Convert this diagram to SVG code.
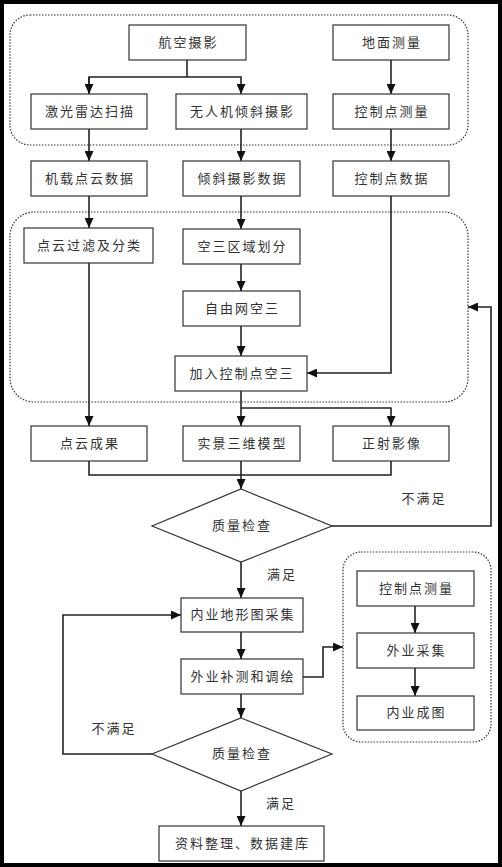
<svg xmlns="http://www.w3.org/2000/svg" width="502" height="867" viewBox="0 0 502 867">
<style>
.box{fill:#fff;stroke:#333;stroke-width:1.2}
.grp{fill:none;stroke:#333;stroke-width:1.2;stroke-dasharray:1.5 1.5}
.t{font-family:"Liberation Sans","Noto Sans CJK SC",sans-serif;font-size:13px;letter-spacing:2px;fill:#333;text-anchor:middle}
.c{fill:none;stroke:#222;stroke-width:1.6}
.a{marker-end:url(#ah)}
</style>
<defs>
<marker id="ah" markerUnits="userSpaceOnUse" markerWidth="10" markerHeight="9" refX="10" refY="4.5" orient="auto">
<path d="M0,0 L10,4.5 L0,9 z" fill="#111"/>
</marker>
</defs>
<rect x="0" y="0" width="502" height="867" fill="#fff"/>
<rect x="2" y="2" width="498" height="863" fill="none" stroke="#000" stroke-width="4"/>
<g id="groups">
<rect class="grp" x="10" y="15" width="458" height="130" rx="20"/>
<rect class="grp" x="10" y="212" width="458" height="190" rx="24"/>
<rect class="grp" x="343" y="552" width="148" height="190" rx="18"/>
</g>
<g id="connectors">
<path class="c" d="M187,60 V77"/>
<path class="c a" d="M89,94 V77 H241 V94"/>
<path class="c a" d="M89,77 V94"/>
<path class="c a" d="M391,60 V94"/>
<path class="c a" d="M89,129 V161"/>
<path class="c a" d="M241,129 V161"/>
<path class="c a" d="M391,129 V161"/>
<path class="c a" d="M89,196 V228"/>
<path class="c a" d="M241,196 V229"/>
<path class="c a" d="M391,196 V373 H307"/>
<path class="c a" d="M241,264 V291"/>
<path class="c a" d="M241,326 V356"/>
<path class="c a" d="M89,263 V426"/>
<path class="c a" d="M241,391 V426"/>
<path class="c a" d="M241,408 H391 V426"/>
<path class="c" d="M89,461 V475 H391 V461"/>
<path class="c a" d="M241,461 V489"/>
<path class="c a" d="M332,526 H491 V307 H468"/>
<path class="c a" d="M241,562 V598"/>
<path class="c a" d="M241,632 V659"/>
<path class="c a" d="M303,677 H323 V647 H343"/>
<path class="c a" d="M241,694 V718"/>
<path class="c a" d="M152,754 H63 V615 H181"/>
<path class="c a" d="M241,791 V826"/>
<path class="c a" d="M415,606 V633"/>
<path class="c a" d="M415,668 V696"/>
</g>
<g id="n1"><rect class="box" x="129" y="25" width="117" height="35"/><text class="t" x="188.5" y="47">航空摄影</text></g>
<g id="n2"><rect class="box" x="333" y="25" width="116" height="35"/><text class="t" x="392" y="47">地面测量</text></g>
<g id="n3"><rect class="box" x="31" y="94" width="116" height="35"/><text class="t" x="90" y="116">激光雷达扫描</text></g>
<g id="n4"><rect class="box" x="176" y="94" width="131" height="35"/><text class="t" x="242.5" y="116">无人机倾斜摄影</text></g>
<g id="n5"><rect class="box" x="333" y="94" width="116" height="35"/><text class="t" x="392" y="116">控制点测量</text></g>
<g id="n6"><rect class="box" x="31" y="161" width="116" height="35"/><text class="t" x="90" y="183">机载点云数据</text></g>
<g id="n7"><rect class="box" x="183" y="161" width="117" height="35"/><text class="t" x="242.5" y="183">倾斜摄影数据</text></g>
<g id="n8"><rect class="box" x="333" y="161" width="116" height="35"/><text class="t" x="392" y="183">控制点数据</text></g>
<g id="n9"><rect class="box" x="24" y="228" width="129" height="35"/><text class="t" x="89.5" y="250">点云过滤及分类</text></g>
<g id="n10"><rect class="box" x="183" y="229" width="117" height="35"/><text class="t" x="242.5" y="251">空三区域划分</text></g>
<g id="n11"><rect class="box" x="183" y="291" width="117" height="35"/><text class="t" x="242.5" y="313">自由网空三</text></g>
<g id="n12"><rect class="box" x="175" y="356" width="132" height="35"/><text class="t" x="242" y="378">加入控制点空三</text></g>
<g id="n13"><rect class="box" x="31" y="426" width="116" height="35"/><text class="t" x="90" y="448">点云成果</text></g>
<g id="n14"><rect class="box" x="183" y="426" width="117" height="35"/><text class="t" x="242.5" y="448">实景三维模型</text></g>
<g id="n15"><rect class="box" x="333" y="426" width="116" height="35"/><text class="t" x="392" y="448">正射影像</text></g>
<g id="d1"><polygon class="box" points="241,489 332,526 241,562 152,526"/><text class="t" x="242" y="530">质量检查</text></g>
<g id="n16"><rect class="box" x="181" y="598" width="122" height="34"/><text class="t" x="243" y="619">内业地形图采集</text></g>
<g id="n17"><rect class="box" x="181" y="659" width="122" height="35"/><text class="t" x="243" y="681">外业补测和调绘</text></g>
<g id="d2"><polygon class="box" points="241,718 332,754 241,791 152,754"/><text class="t" x="242" y="758">质量检查</text></g>
<g id="n18"><rect class="box" x="159" y="826" width="165" height="35"/><text class="t" x="242.5" y="848">资料整理、数据建库</text></g>
<g id="n19"><rect class="box" x="357" y="571" width="117" height="35"/><text class="t" x="416.5" y="593">控制点测量</text></g>
<g id="n20"><rect class="box" x="357" y="633" width="117" height="35"/><text class="t" x="416.5" y="655">外业采集</text></g>
<g id="n21"><rect class="box" x="357" y="696" width="117" height="34"/><text class="t" x="416.5" y="717">内业成图</text></g>
<g id="labels">
<text class="t" x="424" y="503">不满足</text>
<text class="t" x="282" y="579">满足</text>
<text class="t" x="114" y="733">不满足</text>
<text class="t" x="281" y="808">满足</text>
</g>
</svg>
